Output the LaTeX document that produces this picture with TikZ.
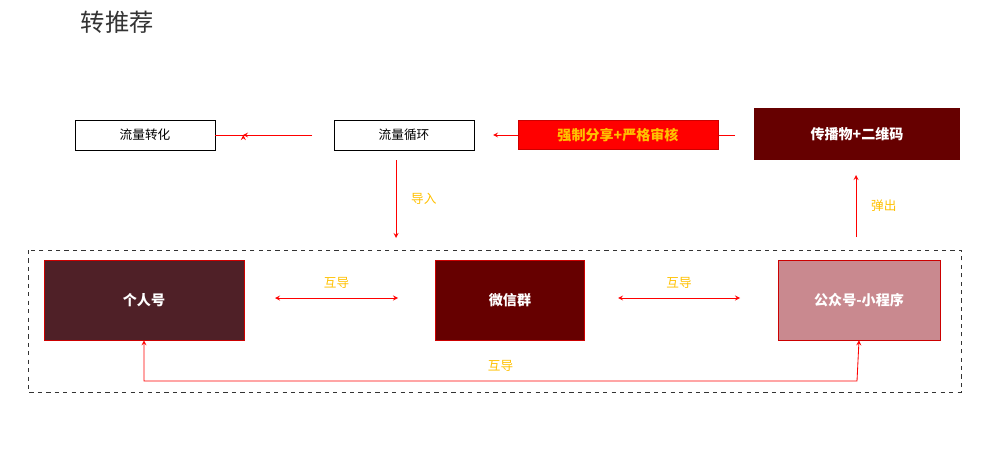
\documentclass[tikz,border=0pt]{standalone}
\usepackage{fontspec}
\setmainfont{Noto Sans CJK SC}
\usetikzlibrary{positioning}
\definecolor{darkred}{HTML}{660000}
\definecolor{wine}{HTML}{4F2027}
\definecolor{pinkbox}{HTML}{C9898F}
\definecolor{goldtxt}{HTML}{FFC000}
\tikzset{
    plain/.style={draw=black, fill=white, minimum width=3.5cm, minimum height=0.75cm, font=\small},
    solid box/.style={draw=red!80!black, minimum height=2cm, text=white, font=\bfseries},
    link/.style={red, ->, >=stealth, semithick},
    twoway/.style={red, <->, >=stealth, semithick},
    tag/.style={goldtxt, font=\small}
}
\begin{document}
\begin{tikzpicture}[x=0.025cm, y=-0.025cm]
    \useasboundingbox (0,0) rectangle (1006,453);
    % title
    \node[anchor=west, font=\LARGE, text=black!80] (title) at (76,22) {转推荐};

    % top row
    \node[plain] (conv) at (145,135) {流量转化};
    \node[plain] (loop) at (404,135) {流量循环};
    \coordinate (feedend) at (735,135);
    \draw[link] (feedend) -- (493,135);
    \node[fill=red, draw=red!80!black, minimum width=5cm, minimum height=0.72cm, text=goldtxt, font=\bfseries] (share) at (618,135) {强制分享+严格审核};
    \node[fill=darkred, minimum width=5.15cm, minimum height=1.3cm, text=white, font=\bfseries] (media) at (857,134) {传播物+二维码};
    \coordinate (loopout) at (312,135);
    \draw[link] (loopout) -- (conv.east) ++(28,0);
    \draw[link] (loopout) -- (243,135);

    % traffic group
    \draw[dashed, black!80] (28,250) rectangle (961,392);
    \node[solid box, fill=wine, minimum width=5cm] (personal) at (144,300) {个人号};
    \node[solid box, fill=darkred, minimum width=3.72cm] (group) at (510,300) {微信群};
    \node[solid box, fill=pinkbox, minimum width=4.05cm] (official) at (859,300) {公众号-小程序};

    % connectors
    \coordinate (in1) at (396,160);
    \coordinate (in2) at (396,238);
    \draw[link] (in1) -- (in2) node[midway, right=0.25cm, tag] {导入};
    \coordinate (up1) at (856,237);
    \coordinate (up2) at (856,175);
    \draw[link] (up1) -- (up2) node[midway, right=0.25cm, tag] {弹出};
    \coordinate (a1) at (275,298);
    \coordinate (a2) at (398,298);
    \draw[twoway] (a1) -- (a2) node[midway, above=0.1cm, tag] {互导};
    \coordinate (b1) at (618,298);
    \coordinate (b2) at (740,298);
    \draw[twoway] (b1) -- (b2) node[midway, above=0.1cm, tag] {互导};
    \draw[twoway] (personal.south) -- (144,381) -- (857,381) node[pos=0.5, above=0.1cm, tag] {互导} -- (official.south);
\end{tikzpicture}
\end{document}
